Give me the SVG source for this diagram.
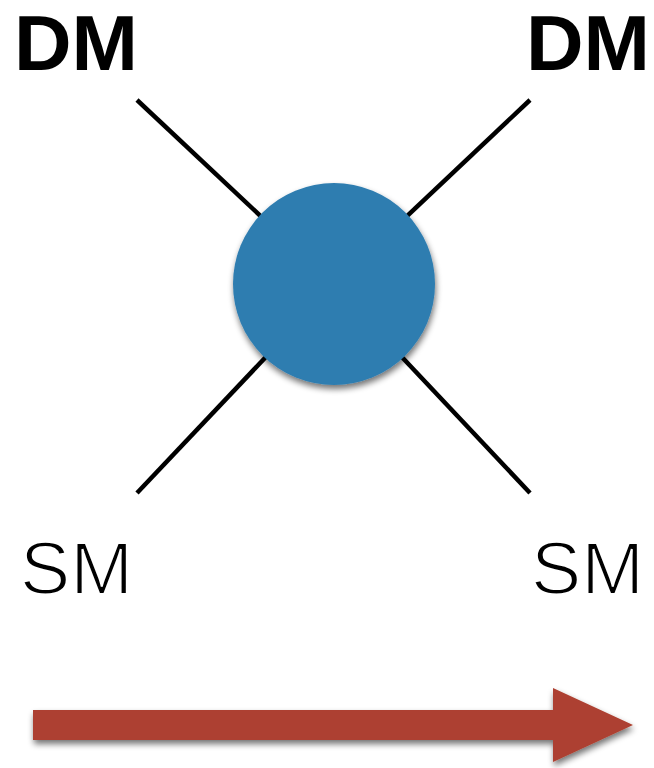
<svg xmlns="http://www.w3.org/2000/svg" width="654" height="768" viewBox="0 0 654 768">
<defs>
<filter id="sh" x="-20%" y="-20%" width="150%" height="150%">
<feGaussianBlur in="SourceAlpha" stdDeviation="3"/>
<feOffset dx="1" dy="4" result="b"/>
<feComponentTransfer><feFuncA type="linear" slope="0.55"/></feComponentTransfer>
<feMerge><feMergeNode/><feMergeNode in="SourceGraphic"/></feMerge>
</filter>
<style>
.ln{stroke:#000;stroke-width:4.5;fill:none}
.dm{font-family:"Liberation Sans",Arial,sans-serif;font-weight:bold;font-size:78px;fill:#000}
.sm{font-family:"Liberation Sans",Arial,sans-serif;font-size:75px;fill:#000;stroke:#fff;stroke-width:2}
</style>
</defs>
<rect width="654" height="768" fill="#fff"/>
<g id="connectors">
<line class="ln" x1="137" y1="100" x2="334" y2="285"/>
<line class="ln" x1="530" y1="100" x2="334" y2="285"/>
<line class="ln" x1="137" y1="493" x2="334" y2="285"/>
<line class="ln" x1="530" y1="493" x2="334" y2="285"/>
</g>
<g id="vertex">
<circle cx="334" cy="284" r="101" fill="#2f7db0" filter="url(#sh)"/>
</g>
<g id="dm-left"><text class="dm" x="14" y="70" textLength="124" lengthAdjust="spacingAndGlyphs">DM</text></g>
<g id="dm-right"><text class="dm" x="526" y="70" textLength="124" lengthAdjust="spacingAndGlyphs">DM</text></g>
<g id="sm-left"><text class="sm" x="20" y="594" textLength="113" lengthAdjust="spacingAndGlyphs">SM</text></g>
<g id="sm-right"><text class="sm" x="531" y="594" textLength="113" lengthAdjust="spacingAndGlyphs">SM</text></g>
<g id="arrow">
<polygon points="33,710 553,710 553,688 633,725 553,762 553,740 33,740" fill="#ad4030" filter="url(#sh)"/>
</g>
</svg>
